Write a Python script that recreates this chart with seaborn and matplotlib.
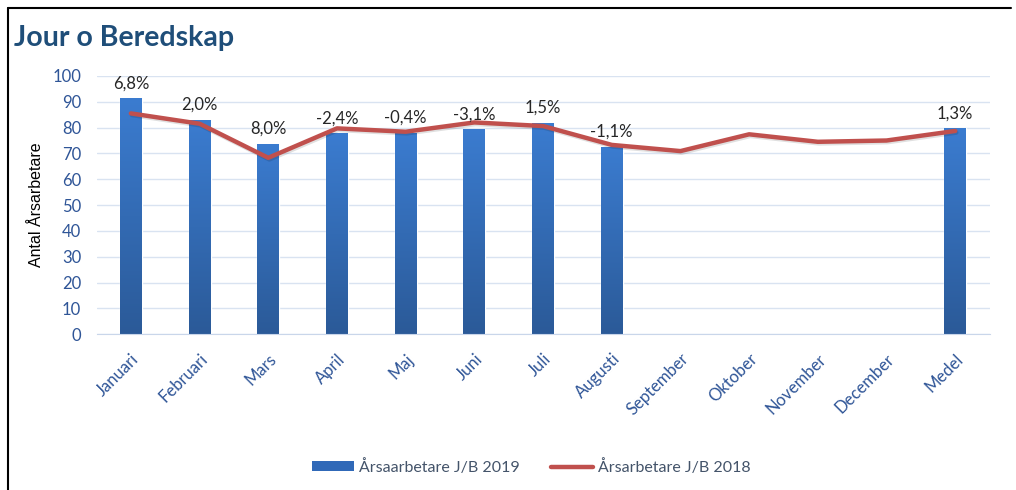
import numpy as np
import pandas as pd
import matplotlib
matplotlib.use("Agg")
import matplotlib.pyplot as plt
import matplotlib.patheffects as pe
from matplotlib.colors import LinearSegmentedColormap
from matplotlib.lines import Line2D
from matplotlib.patches import Patch
import seaborn as sns

months = ["Januari", "Februari", "Mars", "April", "Maj", "Juni", "Juli",
          "Augusti", "September", "Oktober", "November", "December", "Medel"]
ars_2019 = [91.3, 83.1, 73.8, 77.8, 78.1, 79.4, 81.8, 72.5,
            np.nan, np.nan, np.nan, np.nan, 79.7]
ars_2018 = [85.5, 81.5, 68.3, 79.7, 78.4, 82.0, 80.6, 73.3,
            70.9, 77.4, 74.5, 75.0, 78.7]
change_labels = ["6,8%", "2,0%", "8,0%", "-2,4%", "-0,4%", "-3,1%", "1,5%",
                 "-1,1%", "", "", "", "", "1,3%"]

df = pd.DataFrame({"month": months, "v2019": ars_2019, "v2018": ars_2018})

sns.set_style("white")
plt.rcParams["font.family"] = ["Lato", "DejaVu Sans"]

fig = plt.figure(figsize=(10.16, 4.9), dpi=100)
ax = fig.add_axes([0.095, 0.318, 0.879, 0.527])

tick_blue = "#2F5597"
red = "#C0504D"

sns.barplot(data=df, x="month", y="v2019", order=months, width=0.32,
            color="#3A78C8", ax=ax, zorder=2, errorbar=None)

# vertical gradient on bars
cmap = LinearSegmentedColormap.from_list("g", ["#2B5A98", "#3B7CD0"])
grad = np.linspace(0, 1, 256).reshape(-1, 1)
for p in ax.patches:
    x0, y0 = p.get_x(), p.get_y()
    w, h = p.get_width(), p.get_height()
    if np.isnan(h) or h == 0:
        continue
    im = ax.imshow(grad, cmap=cmap, origin="lower", aspect="auto",
                   extent=[x0, x0 + w, y0, y0 + h], zorder=2.1)
    im.set_clip_path(p)

sns.lineplot(x=np.arange(len(months)), y=ars_2018, color=red, lw=3.2,
             ax=ax, zorder=3,
             path_effects=[pe.SimpleLineShadow(offset=(0.8, -1.2), alpha=0.12),
                           pe.Normal()])

for i, (v, lab) in enumerate(zip(ars_2019, change_labels)):
    if lab and not np.isnan(v):
        ax.annotate(lab, (i, v), xytext=(0, 5), textcoords="offset points",
                    ha="center", va="bottom", fontsize=12, color="#262626",
                    zorder=4)

ax.set_xlim(-0.5, len(months) - 0.5)
ax.set_ylim(0, 100)
ax.set_yticks(range(0, 101, 10))
ax.grid(axis="y", color="#D9E3F1", lw=1, zorder=0)
ax.set_axisbelow(True)
for s in ["top", "right", "left"]:
    ax.spines[s].set_visible(False)
ax.spines["bottom"].set_color("#C9D6EA")
ax.tick_params(axis="both", length=0, colors=tick_blue, labelsize=12)
ax.tick_params(axis="y", pad=11)
ax.tick_params(axis="x", pad=12)
ax.set_xticks(range(len(months)))
ax.set_xticklabels(months, rotation=45, ha="right", rotation_mode="anchor")
ax.set_xlabel("")
ax.set_ylabel("Antal Årsarbetare", fontsize=11.5, color="black",
              family="Liberation Sans", labelpad=6)

fig.text(0.014, 0.907, "Jour o Beredskap", fontsize=20.5, fontweight="bold",
         color="#1F4E79", va="baseline")

handles = [Patch(facecolor="#3069B8", edgecolor="none"),
           Line2D([0], [0], color=red, lw=3.2)]
leg = fig.legend(handles, ["Årsaarbetare J/B 2019", "Årsarbetare J/B 2018"],
                 loc="center", bbox_to_anchor=(0.523, 0.047), ncol=2,
                 frameon=False, fontsize=11.5, handlelength=2.6,
                 handleheight=0.6, columnspacing=2.0, handletextpad=0.3)
for t in leg.get_texts():
    t.set_color("#44546A")

# screenshot frame lines
fig.add_artist(Line2D([0.008, 0.008], [0, 0.984], color="black", lw=1.5,
                      transform=fig.transFigure))
fig.add_artist(Line2D([0.008, 0.995], [0.984, 0.984], color="black", lw=1.5,
                      transform=fig.transFigure))

fig.savefig("out.png", dpi=100)
